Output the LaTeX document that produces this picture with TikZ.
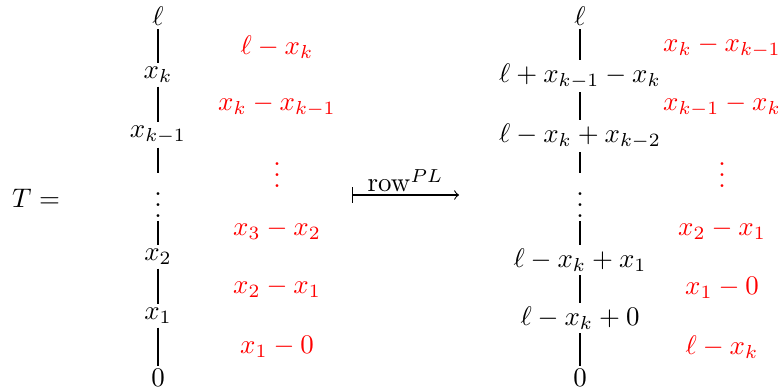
\documentclass[tikz,border=0pt]{standalone}
\begin{document}
\begin{tikzpicture}[x=0.372pt,y=-0.372pt,
  v/.style={inner sep=1.2pt},
  lab/.style={text=red, inner sep=1pt},
  conn/.style={draw, line width=0.4pt}]
\useasboundingbox (0,0) rectangle (781,389);
\node (T) at (36,198) {$T=$};
% left column
\node[v] (a0) at (158,16) {$\ell$};
\node[v] (a1) at (158,75) {$x_k$};
\node[v] (a2) at (158,135) {$x_{k-1}$};
\node[v,anchor=base] (a3) at (158,217) {$\vdots$};
\node[v] (a4) at (158,257) {$x_2$};
\node[v] (a5) at (158,316) {$x_1$};
\node[v] (a6) at (158,378) {$0$};
\foreach \i/\j in {a0/a1,a1/a2,a2/a3,a3/a4,a4/a5,a5/a6} \draw[conn] (\i) -- (\j);
% left red labels
\node[lab] (l1) at (277,47) {$\ell-x_k$};
\node[lab] (l2) at (277,106) {$x_k-x_{k-1}$};
\node[lab,anchor=base] (l3) at (277,187) {$\vdots$};
\node[lab] (l4) at (277,230) {$x_3-x_2$};
\node[lab] (l5) at (277,288) {$x_2-x_1$};
\node[lab] (l6) at (277,347) {$x_1-0$};
% arrow
\coordinate (s) at (352,195);
\coordinate (e) at (459,195);
\draw[|->] (s) -- (e) node[midway,above,inner sep=1pt] (rl) {$\mathrm{row}^{PL}$};
% right column
\node[v] (b0) at (580,16) {$\ell$};
\node[v] (b1) at (580,76) {$\ell+x_{k-1}-x_k$};
\node[v] (b2) at (580,136) {$\ell-x_k+x_{k-2}$};
\node[v,anchor=base] (b3) at (580,217) {$\vdots$};
\node[v] (b4) at (580,260) {$\ell-x_k+x_1$};
\node[v] (b5) at (580,318) {$\ell-x_k+0$};
\node[v] (b6) at (580,378) {$0$};
\foreach \i/\j in {b0/b1,b1/b2,b2/b3,b3/b4,b4/b5,b5/b6} \draw[conn] (\i) -- (\j);
% right red labels
\node[lab] (r1) at (722,47) {$x_k-x_{k-1}$};
\node[lab] (r2) at (722,106) {$x_{k-1}-x_k$};
\node[lab,anchor=base] (r3) at (722,187) {$\vdots$};
\node[lab] (r4) at (722,230) {$x_2-x_1$};
\node[lab] (r5) at (722,288) {$x_1-0$};
\node[lab] (r6) at (722,347) {$\ell-x_k$};
\end{tikzpicture}
\end{document}
